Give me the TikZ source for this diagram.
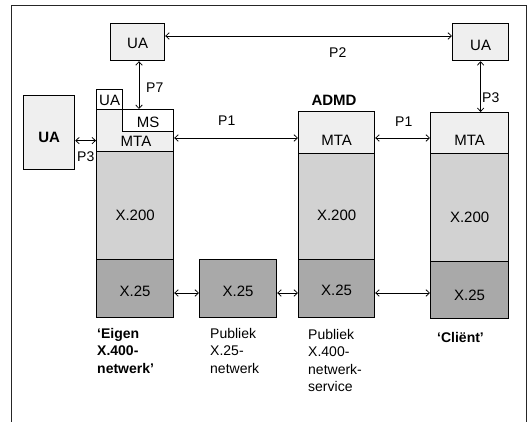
\documentclass[tikz,border=0pt]{standalone}
\usepackage{fontspec}
\setmainfont{Liberation Sans}
\usetikzlibrary{arrows.meta}
\definecolor{uafill}{HTML}{EFEFEF}
\definecolor{dsfill}{HTML}{D2D2D2}
\definecolor{netfill}{HTML}{A9A9A9}
\begin{document}
\begin{tikzpicture}[x=1pt,y=-1pt,
  layer/.style={draw=black, line width=1.2pt, inner sep=0pt, anchor=north west},
  lt/.style={layer, fill=uafill},
  ds/.style={layer, fill=dsfill},
  nw/.style={layer, fill=netfill},
  wt/.style={layer, fill=white},
  txt/.style={inner sep=0pt, font=\fontsize{15}{17}\selectfont},
  btxt/.style={txt, font=\fontsize{15}{17}\selectfont\bfseries},
  plbl/.style={inner sep=0pt, anchor=base west, font=\fontsize{14}{16}\selectfont},
  captext/.style={inner sep=0pt, anchor=base west, align=left, font=\fontsize{14}{17.5}\selectfont},
  bcaptext/.style={captext, font=\fontsize{14}{17.5}\selectfont\bfseries},
  arr/.style={<->, >={Straight Barb[length=3.5pt,width=6.5pt]}, line width=0.75pt},
]
\useasboundingbox (0,0) rectangle (532,422);
\fill[white] (0,0) rectangle (532,422);

% outer frame, open at the bottom
\draw[line width=0.9pt, black!85] (11,422) -- (11,5) -- (526,5) -- (526,422);

% user agents
\node[lt, minimum width=54pt, minimum height=37pt] (uaTL) at (110,23) {};
\node[lt, minimum width=56pt, minimum height=37pt] (uaTR) at (452,23) {};
\node[lt, minimum width=51pt, minimum height=74pt] (uaL) at (23,95) {};

% own X.400 network stack
\node[lt, minimum width=77pt, minimum height=42pt] (mtaL) at (96,109) {};
\node[wt, minimum width=26pt, minimum height=20pt] (uaS) at (96,89) {};
\node[wt, minimum width=51pt, minimum height=22pt] (ms) at (122,109) {};
\node[ds, minimum width=77pt, minimum height=108pt] (x200L) at (96,151) {};
\node[nw, minimum width=77pt, minimum height=58pt] (x25L) at (96,259) {};

% public X.25 network
\node[nw, minimum width=77pt, minimum height=58pt] (x25P) at (199,259) {};

% ADMD stack
\node[lt, minimum width=76pt, minimum height=42pt] (mtaM) at (298,111) {};
\node[ds, minimum width=76pt, minimum height=106pt] (x200M) at (298,153) {};
\node[nw, minimum width=76pt, minimum height=58pt] (x25M) at (298,259) {};

% client stack
\node[lt, minimum width=78pt, minimum height=41pt] (mtaR) at (430,112) {};
\node[ds, minimum width=78pt, minimum height=108pt] (x200R) at (430,153) {};
\node[nw, minimum width=78pt, minimum height=57pt] (x25R) at (430,261) {};

% box texts
\node[txt] (tUaTL) at ([yshift=-1.5pt]uaTL.center) {UA};
\node[txt] (tUaTR) at ([yshift=-3pt]uaTR.center) {UA};
\node[btxt] (tUaL) at ([yshift=-5pt]uaL.center) {UA};
\node[txt] (tUaS) at ([yshift=-1pt]uaS.center) {UA};
\node[txt] (tMs) at ([yshift=-2pt]ms.center) {MS};
\node[txt] (tMtaL) at (136,141) {MTA};
\node[txt] (tX200L) at ([yshift=-10pt]x200L.center) {X.200};
\node[txt] (tX25L) at ([yshift=-3pt]x25L.center) {X.25};
\node[txt] (tX25P) at ([yshift=-3pt]x25P.center) {X.25};
\node[txt] (tMtaM) at ([yshift=-8pt]mtaM.center) {MTA};
\node[txt] (tX200M) at ([yshift=-9pt]x200M.center) {X.200};
\node[txt] (tX25M) at ([yshift=-2pt]x25M.center) {X.25};
\node[txt] (tMtaR) at ([yshift=-7.5pt]mtaR.center) {MTA};
\node[txt] (tX200R) at ([yshift=-10pt]x200R.center) {X.200};
\node[txt] (tX25R) at ([yshift=-5pt]x25R.center) {X.25};
\node[btxt, anchor=base] (admd) at (334,106) {ADMD};

% protocol connectors
\coordinate (yP2) at (0,36);
\coordinate (yP1) at (0,138);
\coordinate (yNet) at (0,293);
\coordinate (xP7) at (139,0);
\draw[arr] (uaTL.east |- yP2) -- (uaTR.west |- yP2);
\draw[arr] (xP7 |- uaTL.south) -- (xP7 |- ms.north);
\draw[arr] (uaTR.south) -- (uaTR.south |- mtaR.north);
\draw[arr] (uaL.east) ++(0,8) coordinate (p3) -- (p3 -| mtaL.west);
\draw[arr] (mtaL.east |- yP1) -- (mtaM.west |- yP1);
\draw[arr] (mtaM.east |- yP1) -- (mtaR.west |- yP1);
\draw[arr] (x25L.east |- yNet) -- (x25P.west |- yNet);
\draw[arr] (x25P.east |- yNet) -- (x25M.west |- yNet);
\draw[arr] (x25M.east |- yNet) -- (x25R.west |- yNet);

% protocol names
\node[plbl] (lP2) at (329,58) {P2};
\node[plbl] (lP7) at (146,93) {P7};
\node[plbl] (lP1a) at (218,126) {P1};
\node[plbl] (lP1b) at (395,127) {P1};
\node[plbl] (lP3a) at (77,162) {P3};
\node[plbl] (lP3b) at (482,103) {P3};

% captions under the stacks (anchored at the baseline of their last line)
\node[bcaptext] (cEigen) at (97,373) {‘Eigen\\X.400-\\netwerk’};
\node[captext] (cX25) at (210,373) {Publiek\\X.25-\\netwerk};
\node[captext] (cX400) at (308,391.5) {Publiek\\X.400-\\netwerk-\\service};
\node[bcaptext] (cClient) at (437,342) {‘Cliënt’};
\end{tikzpicture}
\end{document}
